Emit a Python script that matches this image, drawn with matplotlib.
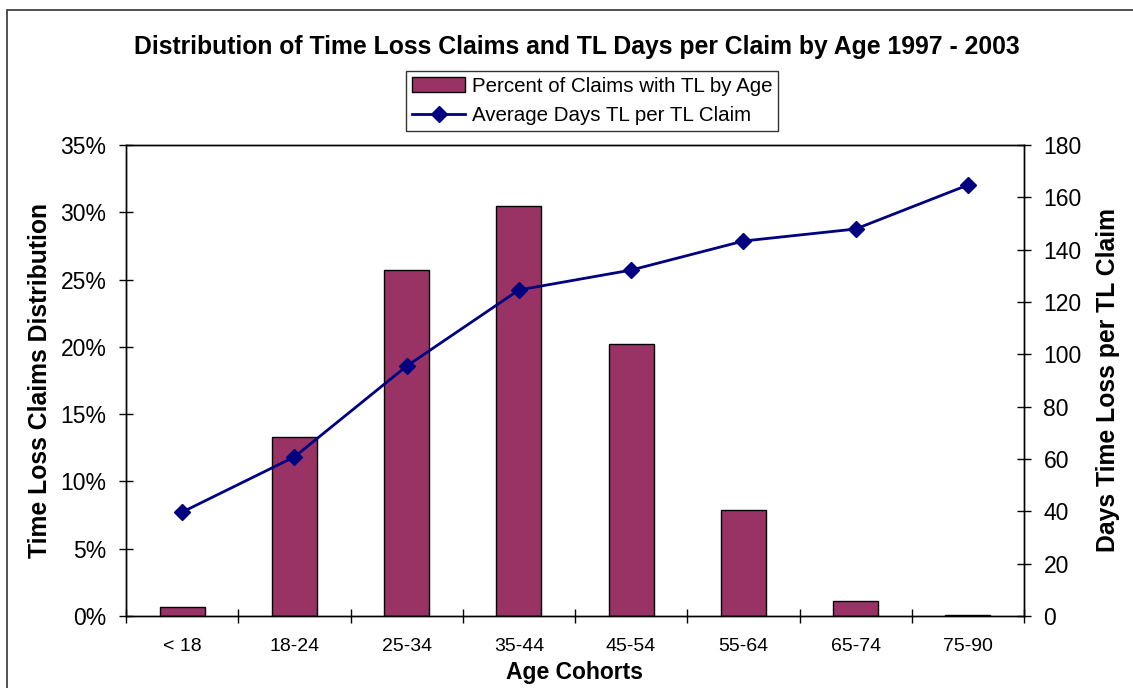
import matplotlib
matplotlib.use("Agg")
import matplotlib.pyplot as plt
import numpy as np
from matplotlib.patches import Rectangle

cohorts = ['< 18', '18-24', '25-34', '35-44', '45-54', '55-64', '65-74', '75-90']
pct_claims = [0.65, 13.3, 25.7, 30.5, 20.2, 7.9, 1.1, 0.1]
avg_days = [39.7, 60.8, 95.5, 124.6, 132.2, 143.3, 147.9, 164.7]

plt.rcParams['font.family'] = ['Liberation Sans', 'DejaVu Sans']

fig = plt.figure(figsize=(11.33, 6.88), dpi=100)
ax = fig.add_axes([126 / 1133, 1 - 616 / 688, 898 / 1133, 471 / 688])
ax2 = ax.twinx()

x = np.arange(len(cohorts))
bars = ax.bar(x, pct_claims, width=0.4, color='#993366', edgecolor='black',
              linewidth=1.0, label='Percent of Claims with TL by Age', zorder=2)
line, = ax2.plot(x, avg_days, color='#000080', linewidth=2, marker='D',
                 markersize=8, label='Average Days TL per TL Claim', zorder=3)

ax.set_xlim(-0.5, len(cohorts) - 0.5)
ax.set_ylim(0, 35)
ax2.set_ylim(0, 180)
ax.set_yticks(range(0, 36, 5))
ax.set_yticklabels([f'{v}%' for v in range(0, 36, 5)])
ax2.set_yticks(range(0, 181, 20))

ax.set_xticks(x)
ax.set_xticklabels(cohorts, fontsize=14)
ax.tick_params(axis='x', length=0, pad=16)
ax.set_xticks(np.arange(-0.5, len(cohorts)), minor=True)
ax.tick_params(axis='x', which='minor', direction='inout', length=10, width=1)
ax.tick_params(axis='y', direction='inout', length=10, width=1, labelsize=16.5, pad=9)
ax2.tick_params(axis='y', direction='inout', length=10, width=1, labelsize=16.5, pad=9)

for a in (ax, ax2):
    for s in a.spines.values():
        s.set_linewidth(1.0)

ax.set_xlabel('Age Cohorts', fontsize=16.5, fontweight='bold', labelpad=4)
ax.set_ylabel('Time Loss Claims Distribution', fontsize=17.8, fontweight='bold', labelpad=6)
ax2.set_ylabel('Days Time Loss per TL Claim', fontsize=17.8, fontweight='bold', labelpad=10)

fig.text(577 / 1133, 1 - 47 / 688, 'Distribution of Time Loss Claims and TL Days per Claim by Age 1997 - 2003',
         ha='center', va='center', fontsize=17.8, fontweight='bold')

leg = fig.legend(handles=[bars, line], loc='center', bbox_to_anchor=(592 / 1133, 1 - 101 / 688),
                 fontsize=14.8, frameon=True, fancybox=False, edgecolor='black',
                 handlelength=2.6, borderpad=0.3, labelspacing=0.5, handletextpad=0.3)
leg.get_frame().set_linewidth(1.0)

fig.patches.append(Rectangle((7 / 1133, -0.01), 1.0, 1 - 10 / 688 + 0.01, transform=fig.transFigure,
                             fill=False, edgecolor='#333333', linewidth=1.2))

fig.savefig('out.png', dpi=100)
